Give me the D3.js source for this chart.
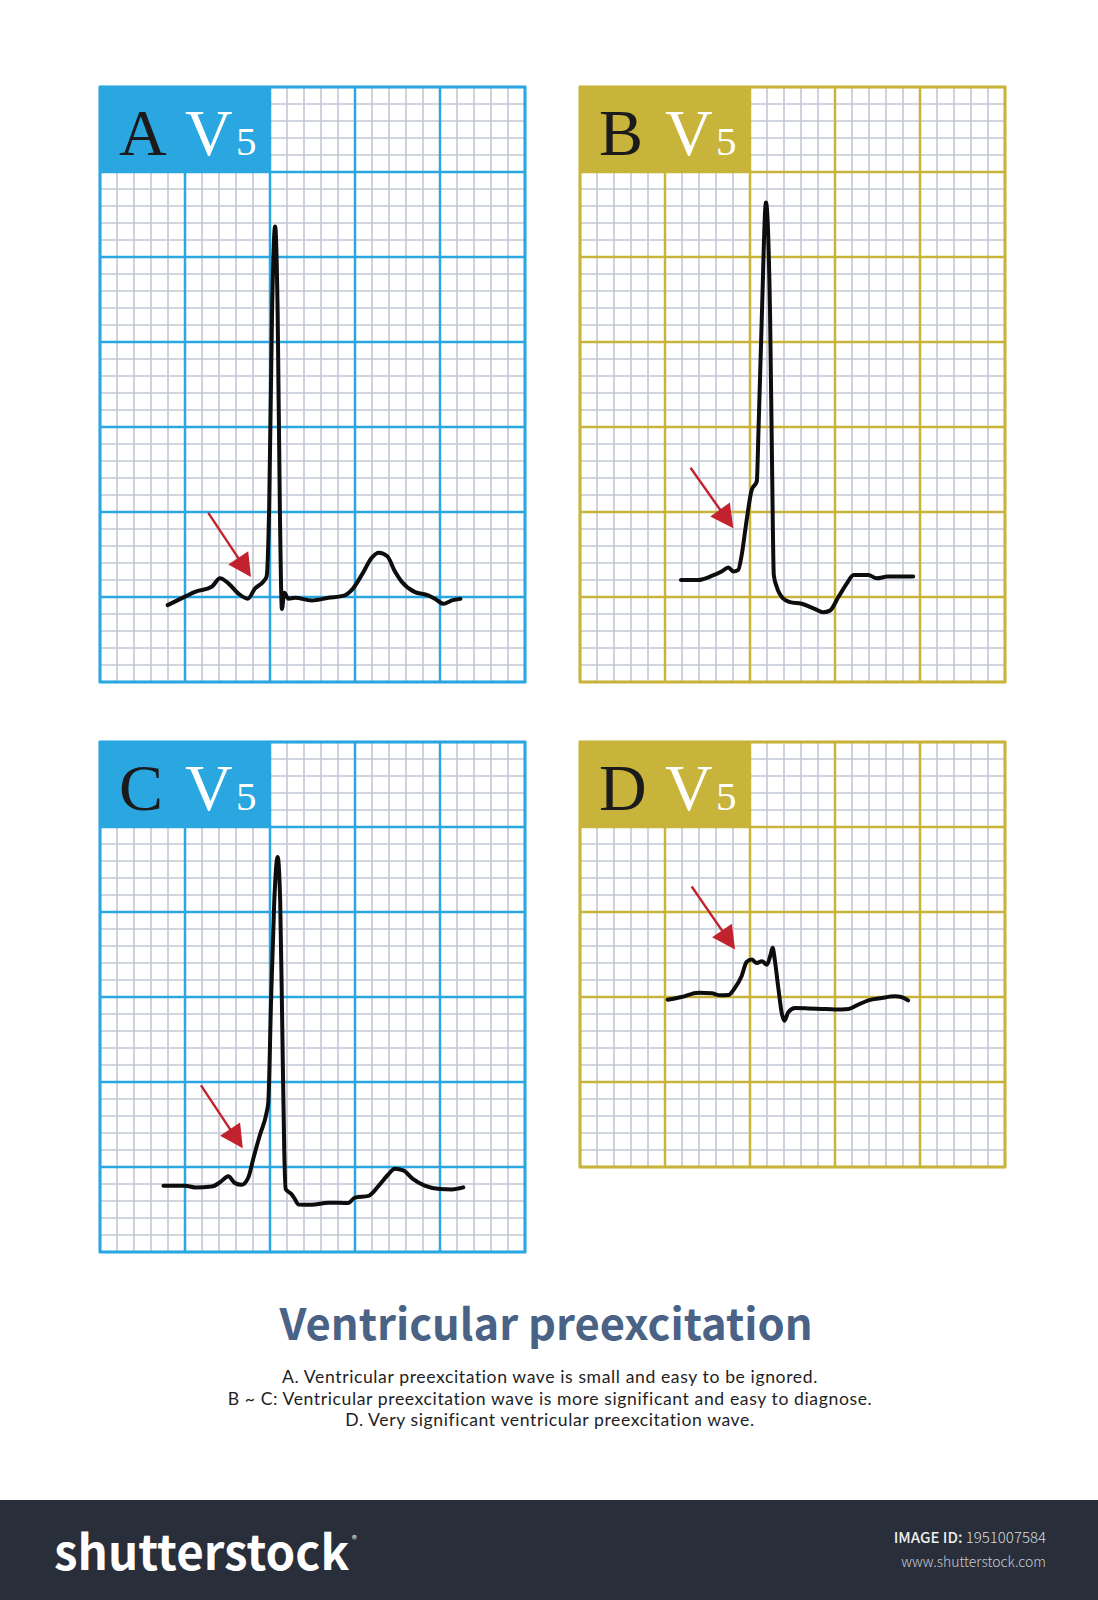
<!DOCTYPE html>
<html>
<head>
<meta charset="utf-8">
<script src="https://cdn.jsdelivr.net/npm/d3@7/dist/d3.min.js"></script>
<style>
  html, body { margin: 0; padding: 0; background: #ffffff; }
  svg { display: block; }
</style>
</head>
<body>
<script>
// ---------------- DATA ----------------
// Panel identifiers, lead label, grid rows (major 5-mm boxes), colour theme
const panelLetters = ["A", "B", "C", "D"];
const panelLead = ["V", "V", "V", "V"];
const panelLeadSub = ["5", "5", "5", "5"];
const panelRows = [7, 7, 6, 5];
const panelCols = [5, 5, 5, 5];
const panelTheme = ["blue", "gold", "blue", "gold"];

// ECG traces: [time in small (1 mm) boxes from panel left, amplitude in small boxes above panel bottom]
const traceA = [
  [3.98, 4.52], [5.0, 5.02], [5.59, 5.3], [6.57, 5.6], [7.06, 6.1], [7.55, 5.8], [8.14, 5.2],
  [8.69, 4.9], [9.12, 5.5], [9.6, 5.9], [9.8, 6.2], [9.95, 10.2], [10.12, 21.7], [10.3, 26.8],
  [10.45, 21.7], [10.58, 10.2], [10.7, 4.3], [10.84, 5.25], [11.08, 4.9], [11.47, 4.95],
  [12.45, 4.8], [13.43, 4.95], [14.4, 5.1], [14.8, 5.4], [15.4, 6.3], [15.98, 7.3], [16.4, 7.6],
  [16.9, 7.4], [17.35, 6.5], [17.75, 5.9], [18.5, 5.3], [19.3, 5.1], [19.7, 4.9], [20.2, 4.6],
  [20.7, 4.8], [21.2, 4.9]
];
const traceB = [
  [5.94, 6.0], [6.96, 6.0], [7.75, 6.24], [8.33, 6.5], [8.73, 6.74], [9.02, 6.5], [9.31, 6.6],
  [9.5, 7.4], [9.8, 9.5], [10.1, 11.3], [10.4, 11.8], [10.5, 14.8], [10.7, 21.65], [10.94, 28.2],
  [11.18, 21.65], [11.3, 12.5], [11.4, 6.3], [11.57, 5.6], [11.96, 4.9], [12.35, 4.7], [13.04, 4.6],
  [13.8, 4.3], [14.3, 4.1], [14.7, 4.2], [15.2, 5.0], [15.7, 5.8], [16.1, 6.3], [16.96, 6.3],
  [17.45, 6.1], [18.1, 6.2], [19.6, 6.2]
];
const traceC = [
  [3.73, 3.9], [5.0, 3.9], [5.59, 3.8], [6.57, 3.85], [7.06, 4.1], [7.55, 4.45], [7.94, 4.05],
  [8.33, 3.95], [8.73, 4.4], [9.02, 5.5], [9.41, 6.9], [9.8, 8.2], [9.9, 8.8], [10.06, 14.7],
  [10.25, 20.6], [10.45, 23.24], [10.6, 20.6], [10.73, 12.7], [10.84, 5.9], [10.92, 3.7],
  [11.27, 3.4], [11.47, 3.1], [11.67, 2.8], [12.45, 2.78], [13.43, 2.9], [14.6, 2.88], [15.0, 3.2],
  [15.8, 3.3], [16.4, 3.9], [16.9, 4.5], [17.35, 4.9], [17.84, 4.8], [18.4, 4.3], [19.1, 3.9],
  [20.0, 3.7], [20.7, 3.68], [21.37, 3.8]
];
const traceD = [
  [5.16, 9.84], [5.98, 10.0], [6.96, 10.25], [7.75, 10.22], [8.24, 10.1], [8.73, 10.12],
  [9.12, 10.55], [9.51, 11.24], [9.8, 12.06], [10.1, 12.2], [10.4, 12.0], [10.7, 12.1],
  [11.0, 11.9], [11.2, 12.45], [11.33, 12.9], [11.47, 12.1], [11.67, 10.5], [11.86, 9.1],
  [12.02, 8.6], [12.25, 9.1], [12.65, 9.35], [13.43, 9.33], [14.2, 9.3], [15.0, 9.27],
  [15.8, 9.3], [16.37, 9.55], [16.96, 9.8], [17.75, 9.94], [18.53, 10.04], [18.9, 10.0], [19.3, 9.8]
];
const traces = [traceA, traceB, traceC, traceD];

// Red arrows pointing at the delta (pre-excitation) wave: [x1, y1, xTip, yTip] in small boxes
const arrowA = [6.37, 9.95, 8.88, 6.17];
const arrowB = [6.5, 12.6, 9.02, 9.04];
const arrowC = [5.94, 9.8, 8.4, 6.1];
const arrowD = [6.57, 16.5, 9.12, 12.8];
const arrows = [arrowA, arrowB, arrowC, arrowD];

// Texts
const titleText = "Ventricular preexcitation";
const captionLines = [
  "A. Ventricular preexcitation wave is small and easy to be ignored.",
  "B ~ C: Ventricular preexcitation wave is more significant and easy to diagnose.",
  "D. Very significant ventricular preexcitation wave."
];
const footerLogo = "shutterstock";
const footerIdLabel = "IMAGE ID:";
const footerIdValue = " 1951007584";
const footerUrl = "www.shutterstock.com";

// ---------------- LAYOUT / STYLE ----------------
const W = 1098, H = 1600;
const MAJOR = 85;               // px per major box
const panelOrigin = [[100, 87], [580, 87], [100, 742], [580, 742]];
const themeColor = { blue: "#2aa7e1", gold: "#c8b43a" };
const minorColor = "#c2c7d6";

const svg = d3.select("body").append("svg")
  .attr("width", W).attr("height", H)
  .attr("viewBox", `0 0 ${W} ${H}`);

svg.append("rect").attr("width", W).attr("height", H).attr("fill", "#ffffff");

const line = d3.line().curve(d3.curveMonotoneX);

panelLetters.forEach((letter, i) => {
  const [left, top] = panelOrigin[i];
  const rows = panelRows[i], cols = panelCols[i];
  const nx = cols * 5, ny = rows * 5;
  const x = d3.scaleLinear().domain([0, nx]).range([left, left + cols * MAJOR]);
  const y = d3.scaleLinear().domain([0, ny]).range([top + rows * MAJOR, top]);
  const color = themeColor[panelTheme[i]];
  const g = svg.append("g").attr("class", "panel panel-" + letter);

  g.append("rect").attr("x", x(0)).attr("y", y(ny))
    .attr("width", x(nx) - x(0)).attr("height", y(0) - y(ny)).attr("fill", "#ffffff");

  const xs = d3.range(0, nx + 1), ys = d3.range(0, ny + 1);
  // minor lines
  g.append("g").selectAll("line").data(xs.filter(v => v % 5 !== 0)).join("line")
    .attr("x1", d => x(d)).attr("x2", d => x(d)).attr("y1", y(0)).attr("y2", y(ny))
    .attr("stroke", minorColor).attr("stroke-width", 1.6);
  g.append("g").selectAll("line").data(ys.filter(v => v % 5 !== 0)).join("line")
    .attr("y1", d => y(d)).attr("y2", d => y(d)).attr("x1", x(0)).attr("x2", x(nx))
    .attr("stroke", minorColor).attr("stroke-width", 1.6);
  // major lines
  g.append("g").selectAll("line").data(xs.filter(v => v % 5 === 0)).join("line")
    .attr("x1", d => x(d)).attr("x2", d => x(d)).attr("y1", y(0)).attr("y2", y(ny))
    .attr("stroke", color).attr("stroke-width", 2.5);
  g.append("g").selectAll("line").data(ys.filter(v => v % 5 === 0)).join("line")
    .attr("y1", d => y(d)).attr("y2", d => y(d)).attr("x1", x(0)).attr("x2", x(nx))
    .attr("stroke", color).attr("stroke-width", 2.5);
  // border
  g.append("rect").attr("x", x(0)).attr("y", y(ny))
    .attr("width", x(nx) - x(0)).attr("height", y(0) - y(ny))
    .attr("fill", "none").attr("stroke", color).attr("stroke-width", 2.8);

  // label box (2 major cols x 1 major row)
  g.append("rect").attr("x", x(0)).attr("y", y(ny))
    .attr("width", x(10) - x(0)).attr("height", y(ny - 5) - y(ny))
    .attr("fill", color);
  const base = y(ny) + 68;
  g.append("text").attr("x", x(0) + 19).attr("y", base)
    .attr("font-family", "'Liberation Serif', 'DejaVu Serif', serif")
    .attr("font-size", 66).attr("fill", "#1b1b1b").text(letter);
  g.append("text").attr("x", x(0) + 85).attr("y", base)
    .attr("font-family", "'Liberation Serif', 'DejaVu Serif', serif")
    .attr("font-size", 66).attr("fill", "#ffffff").text(panelLead[i]);
  g.append("text").attr("x", x(0) + 136).attr("y", base)
    .attr("font-family", "'Liberation Serif', 'DejaVu Serif', serif")
    .attr("font-size", 41).attr("fill", "#ffffff").text(panelLeadSub[i]);

  // ECG trace
  g.append("path").datum(traces[i])
    .attr("d", line.x(d => x(d[0])).y(d => y(d[1])))
    .attr("fill", "none").attr("stroke", "#0d0d0d").attr("stroke-width", 4)
    .attr("stroke-linejoin", "round").attr("stroke-linecap", "round");

  // arrow
  const [ax1, ay1, ax2, ay2] = arrows[i];
  const p1 = [x(ax1), y(ay1)], p2 = [x(ax2), y(ay2)];
  const dx = p2[0] - p1[0], dy = p2[1] - p1[1];
  const len = Math.hypot(dx, dy), ux = dx / len, uy = dy / len;
  const headLen = 23, headHalf = 12;
  const bx = p2[0] - ux * headLen, by = p2[1] - uy * headLen;
  g.append("line").attr("x1", p1[0]).attr("y1", p1[1]).attr("x2", bx + ux * 2).attr("y2", by + uy * 2)
    .attr("stroke", "#c1222d").attr("stroke-width", 2.4);
  g.append("path")
    .attr("d", `M${p2[0]},${p2[1]} L${bx - uy * headHalf},${by + ux * headHalf} L${bx + uy * headHalf},${by - ux * headHalf} Z`)
    .attr("fill", "#c1222d");
});

// Title and caption
svg.append("text").attr("x", 546).attr("y", 1340)
  .attr("text-anchor", "middle")
  .attr("font-family", "'Noto Sans CJK SC', 'Noto Sans', sans-serif")
  .attr("font-weight", 700).attr("font-size", 43.5).attr("fill", "#4a6285")
  .text(titleText);

svg.append("g").selectAll("text").data(captionLines).join("text")
  .attr("x", 550).attr("y", (d, i) => 1383 + i * 21.5)
  .attr("text-anchor", "middle")
  .attr("font-family", "Lato, 'Noto Sans', sans-serif")
  .attr("font-size", 17.6).attr("letter-spacing", 0.6).attr("fill", "#1e1e1e")
  .text(d => d);

// Footer
svg.append("rect").attr("x", 0).attr("y", 1500).attr("width", W).attr("height", 100).attr("fill", "#282e3a");
const logo = svg.append("text").attr("x", 54).attr("y", 1570)
  .attr("font-family", "'Noto Sans CJK SC', 'Open Sans', sans-serif")
  .attr("font-weight", 700).attr("font-size", 47.5).attr("fill", "#ffffff");
logo.append("tspan").text(footerLogo);
logo.append("tspan").attr("dx", 3).attr("dy", -27).attr("font-size", 10).attr("font-weight", 400).text("®");

const idText = svg.append("text").attr("x", 1046).attr("y", 1543)
  .attr("text-anchor", "end")
  .attr("font-family", "'Noto Sans CJK SC', 'Open Sans', sans-serif")
  .attr("font-size", 15).attr("fill", "#d8dade");
idText.append("tspan").attr("font-weight", 500).attr("fill", "#eeeeee").text(footerIdLabel);
idText.append("tspan").attr("font-weight", 300).text(footerIdValue);

svg.append("text").attr("x", 1046).attr("y", 1567)
  .attr("text-anchor", "end")
  .attr("font-family", "'Noto Sans CJK SC', 'Open Sans', sans-serif")
  .attr("font-weight", 300).attr("font-size", 14).attr("fill", "#c8cad0")
  .text(footerUrl);
</script>
</body>
</html>
